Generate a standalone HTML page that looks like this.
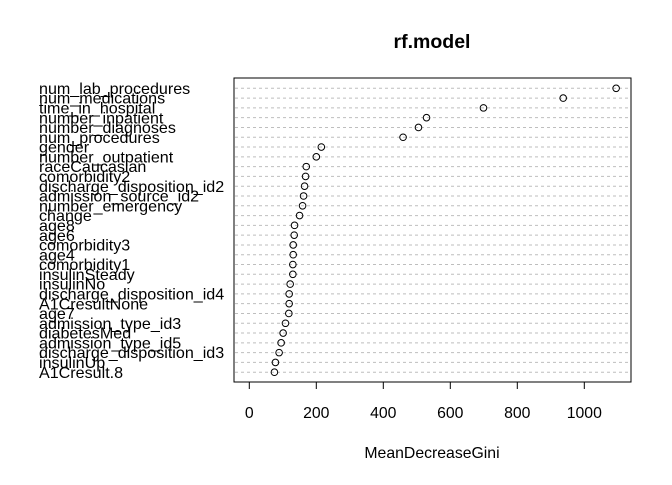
<!DOCTYPE html>
<html><head><meta charset="utf-8"><style>
body{margin:0;background:#fff}
svg text{font-family:"Liberation Sans",Arial,sans-serif;fill:#000}
</style></head><body>
<svg id="chart" width="672" height="480" xmlns="http://www.w3.org/2000/svg">
<rect width="672" height="480" fill="#fff"/>
<text x="432" y="48" font-size="19.5" font-weight="bold" text-anchor="middle">rf.model</text>
<rect x="234" y="78" width="397" height="304" fill="none" stroke="#000" stroke-width="1"/>
<g id="grid"></g><g id="labels"></g><g id="points"></g><g id="xaxis"></g>
<text x="432" y="458" font-size="15.8" text-anchor="middle">MeanDecreaseGini</text>
</svg>
<script>
const categories=["num_lab_procedures","num_medications","time_in_hospital","number_inpatient","number_diagnoses","num_procedures","gender","number_outpatient","raceCaucasian","comorbidity2","discharge_disposition_id2","admission_source_id2","number_emergency","change","age8","age6","comorbidity3","age4","comorbidity1","insulinSteady","insulinNo","discharge_disposition_id4","A1CresultNone","age7","admission_type_id3","diabetesMed","admission_type_id5","discharge_disposition_id3","insulinUp","A1Cresult.8"];
const values=[1095,937,699,529,505,459,215,200,170,168,165,162,159,150,135,134,131,131,130,130,122,119,119,118,108,101,95,89,78,75];
const ticks=[0,200,400,600,800,1000];
const NS="http://www.w3.org/2000/svg";
const xs=v=>249.3+v*0.335;
const ys=i=>88.3+i*9.79;
const g=id=>document.getElementById(id);
function mk(t,a,p){const e=document.createElementNS(NS,t);for(const k in a)e.setAttribute(k,a[k]);p.appendChild(e);return e;}
categories.forEach((c,i)=>{
  const l=mk('line',{x1:235,x2:630,y1:ys(i),y2:ys(i),stroke:'#bebebe','stroke-dasharray':'3 3','stroke-width':1},g('grid'));
  
  
  const t=mk('text',{x:39,y:ys(i)+5.6,'font-size':16.1},g('labels'));
  t.textContent=c;
  
  
  const p=mk('circle',{cx:xs(values[i]),cy:ys(i),r:3.3,fill:'none',stroke:'#000','stroke-width':1},g('points'));
  
  
});
ticks.forEach(v=>{
  const l=mk('line',{x1:xs(v),x2:xs(v),y1:382,y2:389,stroke:'#000'},g('xaxis'));
  
  
  const t=mk('text',{x:xs(v),y:418,'font-size':15.8,'text-anchor':'middle'},g('xaxis'));
  t.textContent=v;
  
  
});
const ax=mk('line',{x1:xs(0),x2:xs(1000),y1:382,y2:382,stroke:'#000'},g('xaxis'));


</script>
</body></html>
